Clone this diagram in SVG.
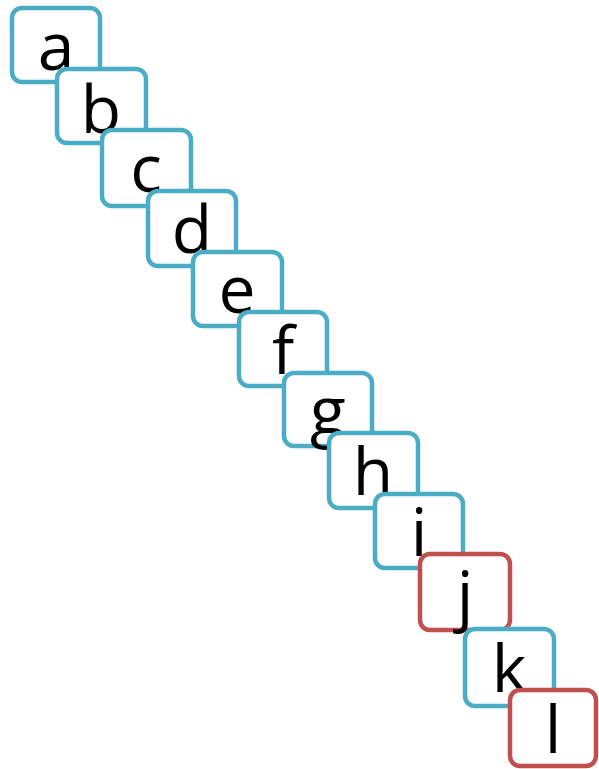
<svg xmlns="http://www.w3.org/2000/svg" width="599" height="769" viewBox="0 0 599 769">
<style>
rect{fill:#fff;stroke-width:4.5}
.b{stroke:#4BACC6}
.r{stroke:#C0504D}
text{font-family:"Open Sans","Noto Sans",sans-serif;font-size:66px;fill:#000;text-anchor:middle}
</style>
<g id="a"><rect class="b" x="12" y="8" width="88" height="74" rx="10"/><text x="56" y="70">a</text></g>
<g id="b"><rect class="b" x="57" y="69" width="89" height="74" rx="10"/><text x="101" y="133">b</text></g>
<g id="c"><rect class="b" x="102" y="130" width="89" height="76" rx="10"/><text x="146" y="192">c</text></g>
<g id="d"><rect class="b" x="148" y="191" width="88" height="75" rx="10"/><text x="192" y="253">d</text></g>
<g id="e"><rect class="b" x="193" y="252" width="89" height="74" rx="10"/><text x="237" y="313">e</text></g>
<g id="f"><rect class="b" x="239" y="312" width="88" height="74" rx="10"/><text x="283" y="374">f</text></g>
<g id="g"><rect class="b" x="284" y="373" width="88" height="73" rx="10"/><text x="328" y="434">g</text></g>
<g id="h"><rect class="b" x="329" y="433" width="89" height="75" rx="10"/><text x="373" y="495">h</text></g>
<g id="i"><rect class="b" x="375" y="494" width="88" height="74" rx="10"/><text x="419" y="556">i</text></g>
<g id="j"><rect class="r" x="420" y="554" width="90" height="76" rx="10"/><text x="465" y="618">j</text></g>
<g id="k"><rect class="b" x="465" y="629" width="89" height="77" rx="10"/><text x="509" y="692">k</text></g>
<g id="l"><rect class="r" x="510" y="690" width="86" height="76" rx="10"/><text x="553" y="753">l</text></g>
<g id="connectors"></g>
</svg>
